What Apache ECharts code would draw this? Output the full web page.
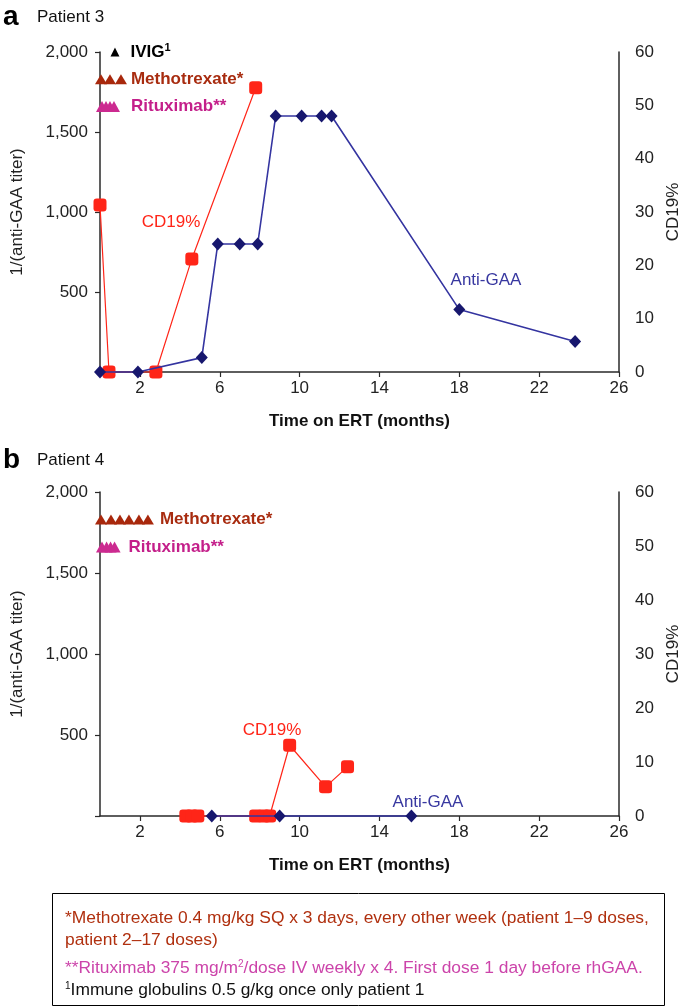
<!DOCTYPE html>
<html>
<head>
<meta charset="utf-8">
<script src="https://cdn.jsdelivr.net/npm/echarts@6/dist/echarts.min.js"></script>
<style>
html,body{margin:0;padding:0;background:#fff;}
#chart{width:685px;height:1008px;}
</style>
</head>
<body>
<div id="chart"></div>
<script>
// ---- data ----
const xTickValues = [2, 6, 10, 14, 18, 22, 26];
// Patient 3 (panel a)
const p3AntiGAA = [[0,0],[1.9,0],[5.1,90],[5.9,800],[7.0,800],[7.9,800],[8.8,1600],[10.1,1600],[11.1,1600],[11.6,1600],[18.0,390],[23.8,190]];
const p3CD19 = [[0,31.3],[0.45,0],[2.8,0],[4.6,21.2],[7.8,53.3]];
const p3IVIG = [0.75];
const p3Methotrexate = [0.05, 0.5, 1.05];
const p3Rituximab = [0.1, 0.3, 0.5, 0.7];
// Patient 4 (panel b)
const p4AntiGAA = [[5.6,0],[9.0,0],[15.6,0]];
const p4CD19 = [[4.3,0],[4.6,0],[4.9,0],[7.8,0],[8.2,0],[8.5,0],[9.5,13.1],[11.3,5.4],[12.4,9.1]];
const p4Methotrexate = [0.05, 0.55, 1.0, 1.45, 1.95, 2.4];
const p4Rituximab = [0.1, 0.33, 0.53, 0.73];

// row levels (left-axis units) at which dose markers are drawn
const ROW_IVIG = 2000, ROW_MTX = 1830, ROW_RTX = 1660;

const FONT = '"Liberation Sans", Arial, Helvetica, sans-serif';
const FS = 17;
const BLUE_LINE = '#3434a0', BLUE_MARK = '#17176e', RED = '#ff2518';
const MTX_TRI = '#a8280c', MTX_TXT = '#a82c10', RTX_TRI = '#cc2a90', RTX_TXT = '#c41f8a';
const AXIS = '#2a2a2a';

function fmt(v){ return v === 0 ? '' : v.toLocaleString('en-US'); }

function xAxisFor(gi){
  return {
    type:'value', gridIndex:gi, min:0, max:26,
    name:'Time on ERT (months)', nameLocation:'middle', nameGap:41,
    nameTextStyle:{fontFamily:FONT, fontSize:FS, fontWeight:'bold', color:'#111'},
    axisLine:{show:true, onZero:false, lineStyle:{color:AXIS, width:1.5}},
    axisTick:{show:true, customValues:xTickValues, length:5, lineStyle:{color:AXIS, width:1.2}},
    axisLabel:{customValues:xTickValues, margin:8, fontFamily:FONT, fontSize:FS, color:'#222'},
    splitLine:{show:false}
  };
}
function leftAxisFor(gi){
  return {
    type:'value', gridIndex:gi, position:'left', min:0, max:2000, interval:500,
    name:'1/(anti-GAA titer)', nameLocation:'middle', nameGap:74, nameRotate:90,
    nameTextStyle:{fontFamily:FONT, fontSize:FS, color:'#222'},
    axisLine:{show:true, lineStyle:{color:AXIS, width:1.5}},
    axisTick:{show:true, length:5, lineStyle:{color:AXIS, width:1.2}},
    axisLabel:{formatter:fmt, margin:12, fontFamily:FONT, fontSize:FS, color:'#222'},
    splitLine:{show:false}
  };
}
function rightAxisFor(gi){
  return {
    type:'value', gridIndex:gi, position:'right', min:0, max:60, interval:10,
    name:'CD19%', nameLocation:'middle', nameGap:46, nameRotate:90,
    nameTextStyle:{fontFamily:FONT, fontSize:FS, color:'#222'},
    axisLine:{show:true, lineStyle:{color:AXIS, width:1.5}},
    axisTick:{show:false},
    axisLabel:{margin:16, fontFamily:FONT, fontSize:FS, color:'#222'},
    splitLine:{show:false}
  };
}
function antiSeries(data, gi){
  return {type:'line', xAxisIndex:gi, yAxisIndex:gi*2, data:data, clip:false, z:4,
    symbol:'diamond', symbolSize:[12,13], showAllSymbol:true,
    lineStyle:{color:BLUE_LINE, width:1.6}, itemStyle:{color:BLUE_MARK}};
}
function cdSeries(data, gi){
  return {type:'line', xAxisIndex:gi, yAxisIndex:gi*2+1, data:data, clip:false, z:3,
    symbol:'roundRect', symbolSize:13, showAllSymbol:true,
    lineStyle:{color:RED, width:1.2}, itemStyle:{color:RED}};
}
function doseSeries(xs, row, gi, triColor, size, labelText, labelColor, dist, rich){
  const data = xs.map((x, i) => {
    const item = {value:[x, row]};
    if (i === xs.length - 1) {
      item.label = {show:true, position:'right', distance:dist, formatter:labelText,
        fontFamily:FONT, fontSize:FS, fontWeight:'bold', color:labelColor, rich:rich || {}};
    }
    return item;
  });
  return {type:'scatter', xAxisIndex:gi, yAxisIndex:gi*2, data:data, clip:false, z:5,
    symbol:'triangle', symbolSize:size, itemStyle:{color:triColor, opacity:1}, silent:true};
}

const supRich = {sup:{fontFamily:FONT, fontSize:11, fontWeight:'bold', color:'#000', verticalAlign:'top', padding:[0,0,8,0]}};

const option = {
  animation:false,
  backgroundColor:'#fff',
  grid:[
    {left:100, top:52, width:519, height:320, containLabel:false, outerBoundsMode:'none'},
    {left:100, top:492, width:519, height:324, containLabel:false, outerBoundsMode:'none'}
  ],
  xAxis:[xAxisFor(0), xAxisFor(1)],
  yAxis:[leftAxisFor(0), rightAxisFor(0), leftAxisFor(1), rightAxisFor(1)],
  series:[
    cdSeries(p3CD19, 0),
    antiSeries(p3AntiGAA, 0),
    doseSeries(p3IVIG, ROW_IVIG, 0, '#000', [9,9], 'IVIG{sup|1}', '#000', 11, supRich),
    doseSeries(p3Methotrexate, ROW_MTX, 0, MTX_TRI, [12,10], 'Methotrexate*', MTX_TXT, 4),
    doseSeries(p3Rituximab, ROW_RTX, 0, RTX_TRI, [12,11], 'Rituximab**', RTX_TXT, 11),
    cdSeries(p4CD19, 1),
    antiSeries(p4AntiGAA, 1),
    doseSeries(p4Methotrexate, ROW_MTX, 1, MTX_TRI, [12,10], 'Methotrexate*', MTX_TXT, 6),
    doseSeries(p4Rituximab, ROW_RTX, 1, RTX_TRI, [12,11], 'Rituximab**', RTX_TXT, 8)
  ],
  graphic:[
    {type:'text', left:3, top:3, style:{text:'a', font:'bold 28px ' + FONT, fill:'#000'}},
    {type:'text', left:37, top:9, style:{text:'Patient 3', font:FS + 'px ' + FONT, fill:'#111'}},
    {type:'text', left:3, top:446, style:{text:'b', font:'bold 28px ' + FONT, fill:'#000'}},
    {type:'text', left:37, top:452, style:{text:'Patient 4', font:FS + 'px ' + FONT, fill:'#111'}},
    {type:'text', x:171, y:222, style:{text:'CD19%', font:FS + 'px ' + FONT, fill:RED, align:'center', verticalAlign:'middle'}},
    {type:'text', x:486, y:280, style:{text:'Anti-GAA', font:FS + 'px ' + FONT, fill:'#3838a0', align:'center', verticalAlign:'middle'}},
    {type:'text', x:272, y:730, style:{text:'CD19%', font:FS + 'px ' + FONT, fill:RED, align:'center', verticalAlign:'middle'}},
    {type:'text', x:428, y:802, style:{text:'Anti-GAA', font:FS + 'px ' + FONT, fill:'#3838a0', align:'center', verticalAlign:'middle'}},
    {type:'rect', shape:{x:52.5, y:893.5, width:612, height:112}, style:{fill:'none', stroke:'#000', lineWidth:1}},
    {type:'text', left:65, top:907, style:{
      text:'*Methotrexate 0.4 mg/kg SQ x 3 days, every other week (patient 1\u20139 doses,\npatient 2\u201317 doses)',
      font:'17.4px ' + FONT, fill:'#b0300f', lineHeight:22}},
    {type:'text', left:65, top:959, style:{
      text:'**Rituximab 375 mg/m{sup|2}/dose IV weekly x 4. First dose 1 day before rhGAA.',
      font:'17.4px ' + FONT, fill:'#cc44aa',
      rich:{sup:{font:'10px ' + FONT, fill:'#cc44aa', verticalAlign:'top', padding:[0,0,8,0]}}}},
    {type:'text', left:65, top:981, style:{
      text:'{sup|1}Immune globulins 0.5 g/kg once only patient 1',
      font:'17.4px ' + FONT, fill:'#111',
      rich:{sup:{font:'10px ' + FONT, fill:'#111', verticalAlign:'top', padding:[0,0,8,0]}}}}
  ]
};

const chart = echarts.init(document.getElementById('chart'), null, {renderer:'canvas'});
chart.setOption(option);
</script>
</body>
</html>
